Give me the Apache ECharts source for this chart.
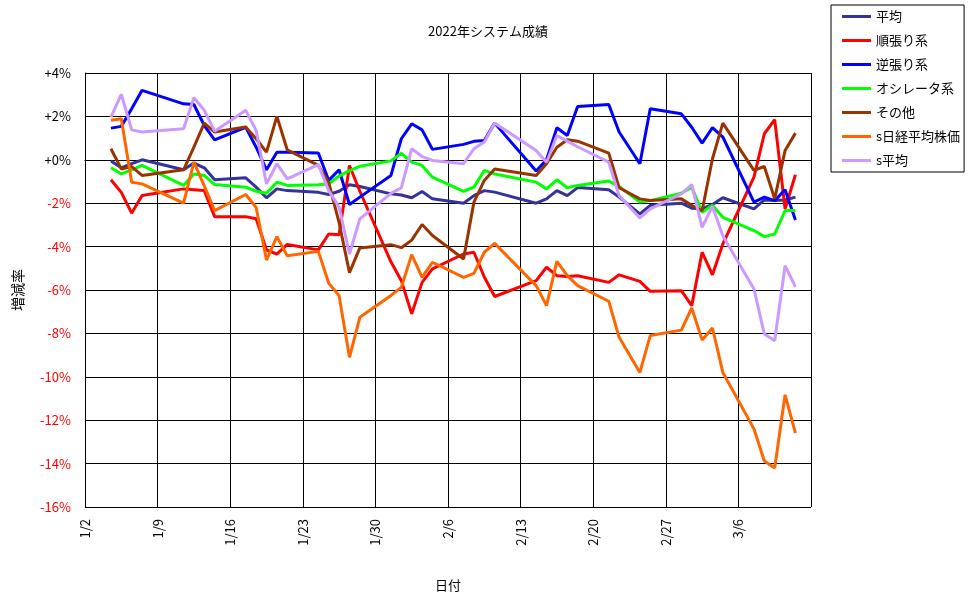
<!DOCTYPE html>
<html>
<head>
<meta charset="utf-8">
<title>2022年システム成績</title>
<script src="https://cdn.jsdelivr.net/npm/echarts@6/dist/echarts.min.js"></script>
<style>
  html, body { margin: 0; padding: 0; background: #fff; }
  #main { width: 976px; height: 599px; }
</style>
</head>
<body>
<div id="main"></div>
<script>
//-----------------------------------------------------= データ =-----------------------------------------
var dates = ['1/4','1/5','1/6','1/7','1/11','1/12','1/13','1/14','1/17','1/18','1/19','1/20','1/21',
  '1/24','1/25','1/26','1/27','1/28','1/31','2/1','2/2','2/3','2/4','2/7','2/8','2/9','2/10',
  '2/14','2/15','2/16','2/17','2/18','2/21','2/22','2/24','2/25','2/28','3/1','3/2','3/3','3/4',
  '3/7','3/8','3/9','3/10','3/11'];

var heikin = [-0.06,-0.37,-0.18,0.0,-0.46,-0.15,-0.37,-0.92,-0.83,-1.26,-1.75,-1.34,-1.42,
  -1.5,-1.6,-1.45,-1.15,-1.23,-1.57,-1.62,-1.75,-1.46,-1.8,-2.0,-1.65,-1.42,-1.49,
  -2.0,-1.8,-1.42,-1.65,-1.28,-1.38,-1.72,-2.49,-2.1,-2.0,-2.23,-2.26,-2.06,-1.75,
  -2.26,-1.85,-1.88,-1.85,-1.72];
var junbari = [-0.92,-1.5,-2.46,-1.65,-1.34,-1.38,-1.42,-2.62,-2.62,-2.72,-4.15,-4.35,-3.9,
  -4.15,-3.42,-3.45,-0.26,-1.45,-4.7,-5.57,-7.1,-5.65,-5.03,-4.34,-4.26,-5.4,-6.3,
  -5.57,-4.95,-5.34,-5.38,-5.34,-5.65,-5.3,-5.6,-6.06,-6.03,-6.72,-4.26,-5.3,-3.88,
  -0.8,1.2,1.85,-2.26,-0.69];
var gyakubari = [1.46,1.54,2.35,3.2,2.58,2.55,1.58,0.92,1.5,0.58,-0.46,0.35,0.35,
  0.31,-0.95,-0.46,-2.06,-1.72,-0.72,0.97,1.66,1.38,0.48,0.71,0.85,0.89,1.69,
  -0.52,0.0,1.48,1.12,2.46,2.55,1.28,-0.18,2.35,2.12,1.5,0.77,1.48,1.05,
  -1.95,-1.72,-1.88,-1.38,-2.77];
var oscillator = [-0.37,-0.65,-0.46,-0.26,-1.18,-0.65,-0.72,-1.14,-1.26,-1.45,-1.54,-1.03,-1.18,
  -1.15,-1.1,-0.75,-0.5,-0.3,-0.05,0.3,-0.11,-0.26,-0.8,-1.45,-1.26,-0.49,-0.65,
  -1.03,-1.34,-0.92,-1.29,-1.18,-0.98,-1.23,-1.95,-1.88,-1.54,-1.26,-2.42,-2.1,-2.65,
  -3.26,-3.54,-3.42,-2.34,-2.34];
var sonota = [0.51,-0.42,-0.31,-0.72,-0.46,0.58,1.69,1.28,1.51,0.97,0.35,2.0,0.46,
  -0.26,-1.05,-2.9,-5.2,-4.06,-3.91,-4.05,-3.7,-2.98,-3.49,-4.57,-1.95,-0.95,-0.42,
  -0.72,-0.18,0.58,0.92,0.86,0.31,-1.29,-1.8,-1.88,-1.8,-2.1,-2.35,0.05,1.69,
  -0.49,-0.31,-1.8,0.43,1.23];
var nikkei = [1.82,1.89,-1.03,-1.11,-2.0,-0.11,-1.2,-2.34,-1.6,-2.2,-4.62,-3.54,-4.42,
  -4.22,-5.69,-6.26,-9.1,-7.26,-6.25,-5.88,-4.37,-5.42,-4.72,-5.42,-5.23,-4.26,-3.85,
  -5.8,-6.72,-4.68,-5.34,-5.8,-6.52,-8.18,-9.8,-8.1,-7.85,-6.83,-8.3,-7.75,-9.8,
  -12.4,-13.88,-14.2,-10.83,-12.6];
var sHeikin = [1.97,3.02,1.38,1.28,1.43,2.86,2.28,1.32,2.28,1.35,-1.11,-0.18,-0.88,
  -0.22,-1.42,-2.18,-4.34,-2.72,-1.55,-1.29,0.51,0.15,-0.03,-0.18,0.51,0.82,1.69,
  0.43,-0.11,1.12,0.86,0.6,-0.11,-1.65,-2.68,-2.26,-1.57,-1.14,-3.11,-2.15,-3.5,
  -5.95,-8.03,-8.34,-4.88,-5.85];

var seriesNames = ['平均','順張り系','逆張り系','オシレータ系','その他','s日経平均株価','s平均'];
var seriesValues = [heikin, junbari, gyakubari, oscillator, sonota, nikkei, sHeikin];
var seriesColors = ['#333399','#FF0000','#0000FF','#00FF00','#993300','#FF6600','#CC99FF'];

//-----------------------------------------------------= 日付 → 日数 =-----------------------------------------
var baseDay = new Date(2022, 0, 2);
function dayOffset(md) {
  var p = md.split('/');
  var d = new Date(2022, parseInt(p[0]) - 1, parseInt(p[1]));
  return Math.round((d - baseDay) / 86400000);
}
function offsetLabel(v) {
  var d = new Date(2022, 0, 2 + Math.round(v));
  return (d.getMonth() + 1) + '/' + d.getDate();
}

var FONT = '"Noto Sans CJK JP", sans-serif';

var series = [];
var i = 0;
while (i < seriesNames.length) {
  var pts = [];
  var j = 0;
  while (j < dates.length) {
    // 1日の幅の中央にプロット
    pts.push([dayOffset(dates[j]) + 0.5, seriesValues[i][j]]);
    j++;
  }
  series.push({
    name: seriesNames[i],
    type: 'line',
    data: pts,
    showSymbol: false,
    color: seriesColors[i],
    lineStyle: { width: 3, color: seriesColors[i] }
  });
  i++;
}

//-----------------------------------------------------= グラフ =-----------------------------------------
var chartObj = echarts.init(document.getElementById('main'));
var option = {
  animation: false,
  backgroundColor: '#fff',
  textStyle: { fontFamily: FONT },
  title: {
    text: '2022年システム成績',
    left: 'center',
    top: 20,
    textStyle: { fontFamily: FONT, fontSize: 13, fontWeight: 'normal', color: '#000' }
  },
  legend: {
    orient: 'vertical',
    left: 831,
    top: 5,
    padding: [5, 4, 5, 11],
    borderColor: '#000',
    borderWidth: 1,
    icon: 'rect',
    itemWidth: 29,
    itemHeight: 3,
    itemGap: 11,
    data: seriesNames,
    textStyle: { fontFamily: FONT, fontSize: 13, color: '#000' }
  },
  grid: { left: 85, right: 165, top: 73, bottom: 92 },
  xAxis: {
    type: 'value',
    min: 0,
    max: 70,
    interval: 7,
    name: '日付',
    nameLocation: 'middle',
    nameGap: 72,
    nameTextStyle: { fontFamily: FONT, fontSize: 13, color: '#000' },
    axisLine: { lineStyle: { color: '#000', width: 1 } },
    axisTick: { show: false },
    axisLabel: {
      rotate: 90,
      margin: 12,
      showMaxLabel: false,
      fontFamily: FONT,
      fontSize: 13,
      color: '#000',
      formatter: offsetLabel
    },
    splitLine: { show: true, lineStyle: { color: '#000', width: 1 } }
  },
  yAxis: {
    type: 'value',
    min: -16,
    max: 4,
    interval: 2,
    name: '増減率',
    nameLocation: 'middle',
    nameGap: 60,
    nameRotate: 90,
    nameTextStyle: { fontFamily: FONT, fontSize: 14, color: '#000' },
    axisLine: { show: true, lineStyle: { color: '#000', width: 1 } },
    axisTick: { show: false },
    axisLabel: {
      margin: 14,
      fontFamily: FONT,
      fontSize: 13,
      formatter: function (v) { return (v >= 0 ? '+' : '') + v + '%'; },
      color: function (v) { return v < 0 ? '#FF0000' : '#000'; }
    },
    splitLine: { show: true, lineStyle: { color: '#000', width: 1 } }
  },
  series: series
};
chartObj.setOption(option);
</script>
</body>
</html>
